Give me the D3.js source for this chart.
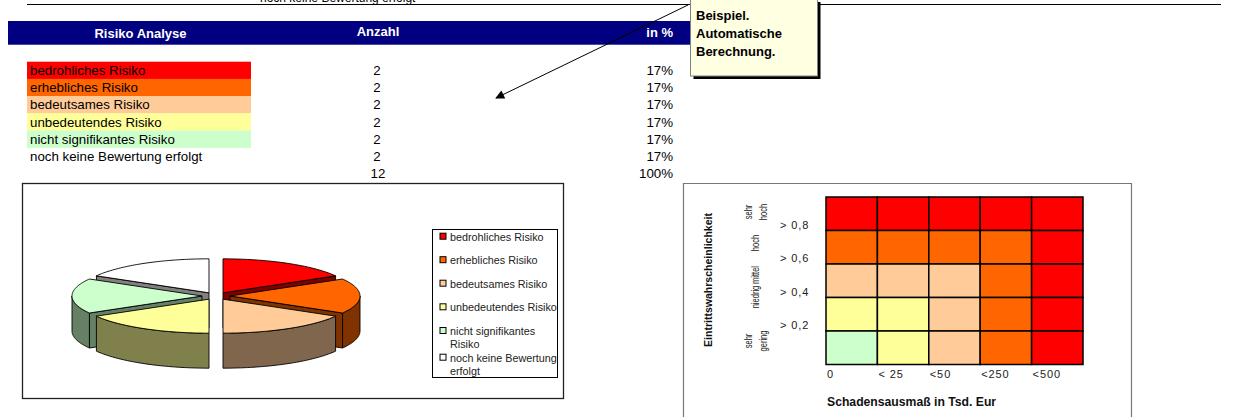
<!DOCTYPE html>
<html>
<head>
<meta charset="utf-8">
<script src="https://cdn.jsdelivr.net/npm/d3@7"></script>
<style>
  html, body { margin: 0; padding: 0; background: #fff; }
  svg { display: block; font-family: "Liberation Sans", Arial, sans-serif; }
</style>
</head>
<body>
<svg id="chart" width="1234" height="417"></svg>
<script>
// ---- Data ----
const categories = [
  "bedrohliches Risiko",
  "erhebliches Risiko",
  "bedeutsames Risiko",
  "unbedeutendes Risiko",
  "nicht signifikantes Risiko",
  "noch keine Bewertung erfolgt"
];
const counts = [2, 2, 2, 2, 2, 2];
const legendLines = [
  ["bedrohliches Risiko"],
  ["erhebliches Risiko"],
  ["bedeutsames Risiko"],
  ["unbedeutendes Risiko"],
  ["nicht signifikantes", "Risiko"],
  ["noch keine Bewertung", "erfolgt"]
];
const headers = ["Risiko Analyse", "Anzahl", "in %"];
const noteLines = ["Beispiel.", "Automatische", "Berechnung."];

const damageLabels = ["0", "< 25", "<50", "<250", "<500"];
const probTicks = ["> 0,8", "> 0,6", "> 0,4", "> 0,2"];
const probLevels = [["sehr", "hoch"], ["hoch"], ["mittel"], ["niedrig"], ["sehr", "gering"]];
// risk level (index into categories) per cell, rows: probability high -> low, cols: damage low -> high
const riskMatrix = [
  [0, 0, 0, 0, 0],
  [1, 1, 1, 1, 0],
  [2, 2, 2, 1, 0],
  [3, 3, 2, 1, 0],
  [4, 3, 2, 1, 0]
];
const xTitle = "Schadensausmaß in Tsd. Eur";
const yTitle = "Eintrittswahrscheinlichkeit";

// ---- Styles ----
const riskColors = ["#FF0000", "#FF6600", "#FFCC99", "#FFFF99", "#CCFFCC", "#FFFFFF"];
const shade = c => { const k = d3.rgb(c); return d3.rgb(k.r * 0.5, k.g * 0.5, k.b * 0.5).formatHex(); };

const svg = d3.select("#chart");

// ---- Top rule and clipped caption ----
svg.append("line").attr("x1", 27).attr("x2", 1221).attr("y1", 4.5).attr("y2", 4.5)
  .attr("stroke", "#000").attr("stroke-width", 1);
svg.append("text").attr("x", 260).attr("y", 1.5).attr("font-size", 12).attr("fill", "#000")
  .text(categories[5]);

// ---- Table ----
const total = d3.sum(counts);
const rowY = d3.scaleBand().domain(d3.range(categories.length + 1)).range([61.7, 61.7 + 17.2 * 7]);
const colX = { label: 30, count: 377, pct: 673 };

svg.append("rect").attr("x", 8).attr("y", 21).attr("width", 692).attr("height", 23.7).attr("fill", "#000080");
const hdr = svg.append("g").attr("fill", "#fff").attr("font-weight", "bold").attr("font-size", 13);
hdr.append("text").attr("x", 140.5).attr("y", 33).attr("dy", "0.36em").attr("text-anchor", "middle").text(headers[0]);
hdr.append("text").attr("x", colX.count + 1).attr("y", 31).attr("dy", "0.36em").attr("text-anchor", "middle").text(headers[1]);
hdr.append("text").attr("x", colX.pct).attr("y", 32).attr("dy", "0.36em").attr("text-anchor", "end").text(headers[2]);

const rows = svg.append("g").attr("font-size", 13.3).attr("fill", "#000");
categories.forEach((c, i) => {
  const y0 = rowY(i), yc = y0 + rowY.bandwidth() / 2;
  if (riskColors[i] !== "#FFFFFF") {
    rows.append("rect").attr("x", 27).attr("y", y0).attr("width", 224).attr("height", rowY.bandwidth() + 0.3)
      .attr("fill", riskColors[i]);
  }
  rows.append("text").attr("x", colX.label).attr("y", yc).attr("dy", "0.36em").text(c);
  rows.append("text").attr("x", colX.count).attr("y", yc).attr("dy", "0.36em").attr("text-anchor", "middle").text(counts[i]);
  rows.append("text").attr("x", colX.pct).attr("y", yc).attr("dy", "0.36em").attr("text-anchor", "end")
    .text(Math.round(counts[i] / total * 100) + "%");
});
{
  const yc = rowY(categories.length) + rowY.bandwidth() / 2;
  rows.append("text").attr("x", colX.count + 1).attr("y", yc).attr("dy", "0.36em").attr("text-anchor", "middle").text(total);
  rows.append("text").attr("x", colX.pct).attr("y", yc).attr("dy", "0.36em").attr("text-anchor", "end").text("100%");
}

// ---- Callout note with arrow ----
const defs = svg.append("defs");
defs.append("marker").attr("id", "head").attr("viewBox", "0 0 10 10").attr("refX", 9).attr("refY", 5)
  .attr("markerWidth", 11).attr("markerHeight", 9).attr("markerUnits", "userSpaceOnUse").attr("orient", "auto")
  .append("path").attr("d", "M0,0L10,5L0,10Z").attr("fill", "#000");
svg.append("line").attr("x1", 688).attr("y1", 5).attr("x2", 496).attr("y2", 98)
  .attr("stroke", "#000").attr("stroke-width", 1).attr("marker-end", "url(#head)");

svg.append("rect").attr("x", 693.5).attr("y", 2).attr("width", 127).attr("height", 77).attr("fill", "#000");
svg.append("rect").attr("x", 690.5).attr("y", -1).attr("width", 127).attr("height", 77)
  .attr("fill", "#FFFFE1").attr("stroke", "#808080").attr("stroke-width", 1);
const note = svg.append("g").attr("font-size", 13).attr("font-weight", "bold").attr("fill", "#000");
noteLines.forEach((t, i) => {
  note.append("text").attr("x", 696).attr("y", 15 + i * 18).attr("dy", "0.36em").text(t);
});

// ---- 3D exploded pie ----
svg.append("rect").attr("x", 22.5).attr("y", 183.5).attr("width", 541).attr("height", 215)
  .attr("fill", "#fff").attr("stroke", "#222").attr("stroke-width", 1.3);

const P = { cx: 216, cy: 296, rx: 130, ry: 34, depth: 35, explode: 14 };
const slices = d3.pie().sort(null).value(d => d)(counts)
  .map((s, i) => {
    const mid = (s.startAngle + s.endAngle) / 2;
    return Object.assign(s, {
      idx: i, mid,
      ox: P.explode * Math.sin(mid),
      oy: -P.explode * (P.ry / P.rx) * Math.cos(mid)
    });
  });

const line = d3.line();
function edge(s, a, dz) {
  return [P.cx + s.ox + P.rx * Math.sin(a), P.cy + s.oy - P.ry * Math.cos(a) + (dz || 0)];
}
function arcPts(s, a0, a1, dz) {
  const n = Math.max(2, Math.ceil(Math.abs(a1 - a0) / (Math.PI / 180)));
  return d3.range(n + 1).map(k => edge(s, a0 + (a1 - a0) * k / n, dz));
}
const pieG = svg.append("g").attr("stroke", "#000").attr("stroke-width", 0.9).attr("stroke-linejoin", "round");
const drawOrder = slices.slice().sort((a, b) => Math.cos(b.mid) - Math.cos(a.mid));
drawOrder.forEach(s => {
  const top = riskColors[s.idx], side = shade(top);
  const c0 = [P.cx + s.ox, P.cy + s.oy];
  const c1 = [c0[0], c0[1] + P.depth];
  const radial = a => {
    const e0 = edge(s, a), e1 = edge(s, a, P.depth);
    pieG.append("path").attr("d", line([c0, e0, e1, c1]) + "Z").attr("fill", side);
  };
  if (Math.sin(s.startAngle) < -1e-6) radial(s.startAngle);
  if (Math.sin(s.endAngle) > 1e-6) radial(s.endAngle);
  const w0 = Math.max(s.startAngle, Math.PI / 2), w1 = Math.min(s.endAngle, 3 * Math.PI / 2);
  if (w1 > w0) {
    const pts = arcPts(s, w0, w1, 0).concat(arcPts(s, w1, w0, P.depth));
    pieG.append("path").attr("d", line(pts) + "Z").attr("fill", side);
  }
  const face = [c0].concat(arcPts(s, s.startAngle, s.endAngle, 0));
  pieG.append("path").attr("d", line(face) + "Z").attr("fill", top);
});

// ---- Pie legend ----
svg.append("rect").attr("x", 432.5).attr("y", 229.5).attr("width", 125).attr("height", 148)
  .attr("fill", "#fff").attr("stroke", "#000").attr("stroke-width", 1);
const legendTop = [236.7, 260.2, 283.7, 307.3, 331, 357.7];
const lg = svg.append("g").attr("font-size", 10.8).attr("fill", "#222");
legendLines.forEach((lines, i) => {
  const y = legendTop[i];
  lg.append("rect").attr("x", 440).attr("y", y - 3.5).attr("width", 6).attr("height", 6)
    .attr("fill", riskColors[i]).attr("stroke", "#000").attr("stroke-width", 1);
  lines.forEach((t, j) => {
    lg.append("text").attr("x", 450).attr("y", y + j * 13.3).attr("dy", "0.36em").text(t);
  });
});

// ---- Risk matrix ----
svg.append("path").attr("d", "M683.5,420V183.5H1131.5V420")
  .attr("fill", "none").attr("stroke", "#777").attr("stroke-width", 1.2);

const hx = d3.scaleBand().domain(d3.range(damageLabels.length)).range([826, 1083]);
const hy = d3.scaleBand().domain(d3.range(probLevels.length)).range([197, 364.5]);
const cells = svg.append("g");
riskMatrix.forEach((row, r) => row.forEach((lvl, c) => {
  cells.append("rect").attr("x", hx(c)).attr("y", hy(r)).attr("width", hx.bandwidth()).attr("height", hy.bandwidth())
    .attr("fill", riskColors[lvl]).attr("stroke", "#000").attr("stroke-width", 1.5);
}));

const axisText = svg.append("g").attr("font-size", 11).attr("fill", "#222").attr("letter-spacing", 0.9);
damageLabels.forEach((t, c) => {
  axisText.append("text").attr("x", hx(c) + 1).attr("y", 374).attr("dy", "0.36em").text(t);
});
probTicks.forEach((t, r) => {
  axisText.append("text").attr("x", 780).attr("y", hy(r + 1) - 5.5).attr("dy", "0.36em").text(t);
});

svg.append("text").attr("x", 827).attr("y", 401.5).attr("dy", "0.36em")
  .attr("font-size", 12.2).attr("font-weight", "bold").attr("fill", "#111").text(xTitle);

svg.append("text").attr("transform", "translate(708,280) rotate(-90)").attr("text-anchor", "middle")
  .attr("dy", "0.36em").attr("font-size", 10.5).attr("font-weight", "bold").attr("fill", "#111")
  .attr("textLength", 134).attr("lengthAdjust", "spacingAndGlyphs").text(yTitle);

// level names along the probability axis, rotated and condensed
const levelCenters = [212, 243, 275, 297, 341];
const lvlG = svg.append("g").attr("font-size", 10.5).attr("fill", "#222");
probLevels.forEach((lines, r) => {
  const xs = lines.length === 2 ? [748, 763] : [755];
  lines.forEach((t, j) => {
    lvlG.append("text").attr("transform", `translate(${xs[j]},${levelCenters[r]}) rotate(-90) scale(0.72,1)`)
      .attr("text-anchor", "middle").attr("dy", "0.36em").text(t);
  });
});
</script>
</body>
</html>
